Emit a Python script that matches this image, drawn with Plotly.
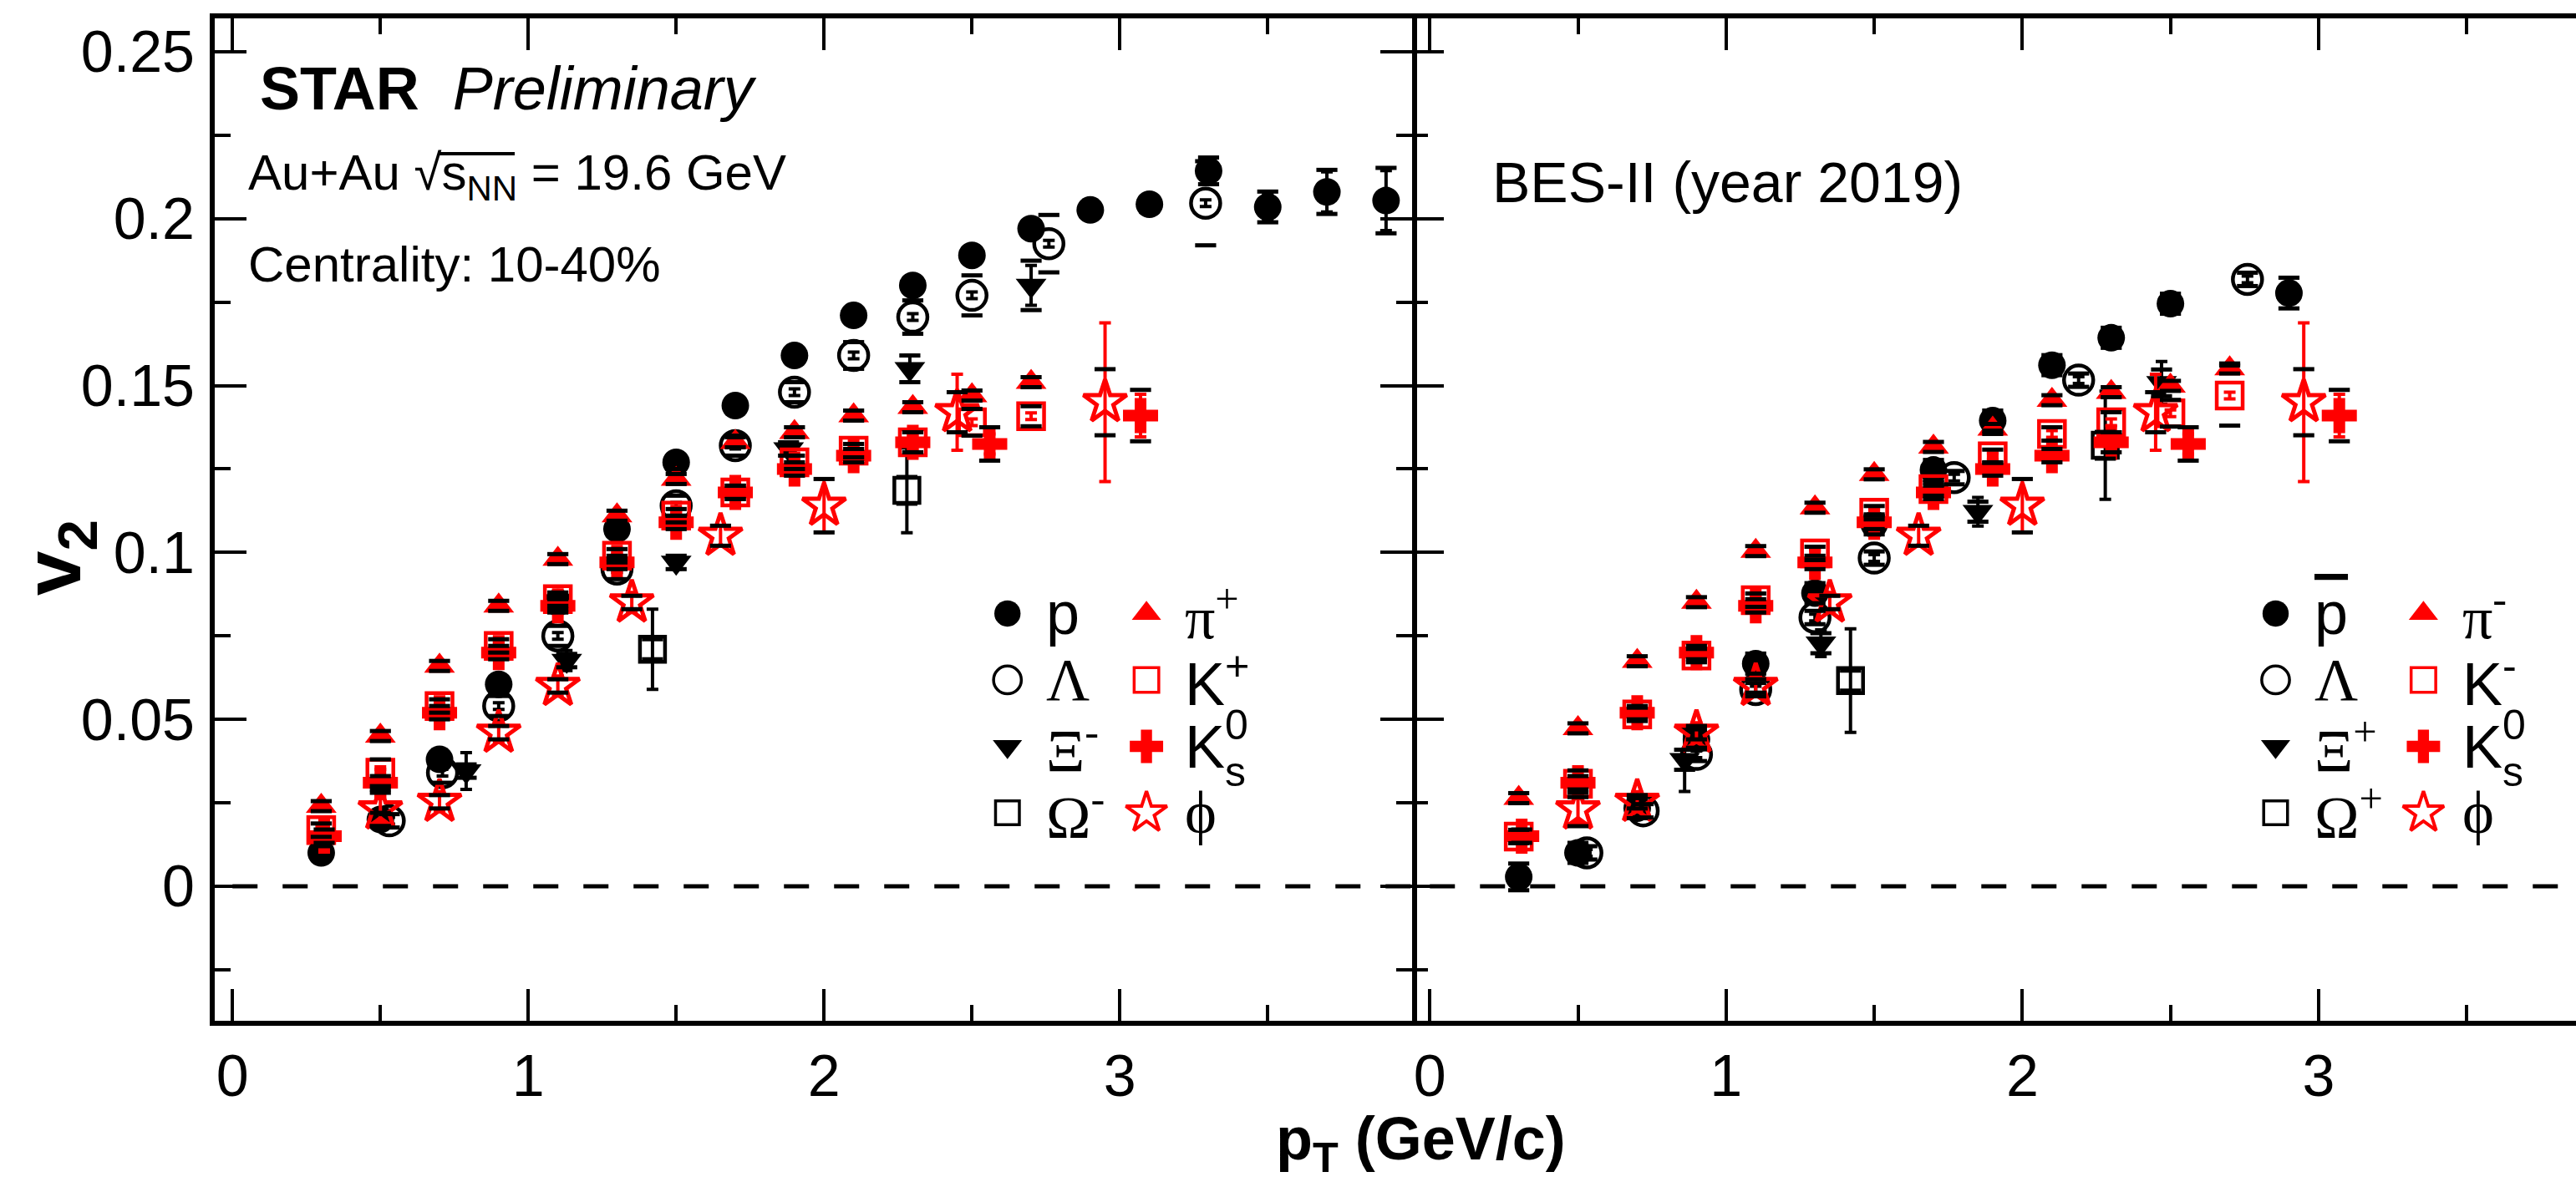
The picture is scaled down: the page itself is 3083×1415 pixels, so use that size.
import numpy as np
import plotly.graph_objects as go

W, H = 3083, 1415
SANS = "Liberation Sans, Arial, sans-serif"
SERIF = "Liberation Serif, Times New Roman, serif"

# ---------------- left panel: particles ----------------
p_pt = [0.3, 0.5, 0.7, 0.9, 1.1, 1.3, 1.5, 1.7, 1.9, 2.1, 2.3, 2.5, 2.7, 2.9, 3.1, 3.3, 3.5, 3.7, 3.9]
p_v2 = [0.010, 0.020, 0.038, 0.0605, 0.085, 0.107, 0.127, 0.144, 0.159, 0.171, 0.180, 0.189, 0.197,
        0.2026, 0.2043, 0.2143, 0.2035, 0.208, 0.2054]
p_stat = [0.001] * 15 + [0.002, 0.004, 0.006, 0.009]
p_sys = [0.002] * 15 + [0.004, 0.0046, 0.0066, 0.0098]

lam_pt = [0.53, 0.71, 0.9, 1.1, 1.3, 1.5, 1.7, 1.9, 2.1, 2.3, 2.5, 2.76, 3.29]
lam_v2 = [0.0196, 0.034, 0.054, 0.075, 0.095, 0.114, 0.132, 0.148, 0.159, 0.1705, 0.177, 0.1925, 0.2046]
lam_stat = [0.001] * 13
lam_sys = [0.002, 0.003, 0.003, 0.003, 0.003, 0.003, 0.003, 0.003, 0.004, 0.005, 0.006, 0.0086, 0.0126]

xim_pt = [0.79, 1.13, 1.5, 1.88, 2.29, 2.7]
xim_v2 = [0.0345, 0.0676, 0.097, 0.131, 0.155, 0.180]
xim_stat = [0.0055, 0.003, 0.002, 0.002, 0.004, 0.006]
xim_sys = [0.002, 0.002, 0.002, 0.002, 0.004, 0.0074]

omm_pt = [1.42, 2.28]
omm_v2 = [0.071, 0.1186]
omm_stat = [0.012, 0.0127]
omm_sys = [0.003, 0.004]

pip_pt = [0.3, 0.5, 0.7, 0.9, 1.1, 1.3, 1.5, 1.7, 1.9, 2.1, 2.3, 2.5, 2.7]
pip_v2 = [0.024, 0.045, 0.066, 0.084, 0.098, 0.111, 0.122, 0.133, 0.136, 0.141, 0.1435, 0.147, 0.151]
pip_stat = [0.0005] * 13
pip_sys = [0.0015] * 13

kp_pt = [0.3, 0.5, 0.7, 0.9, 1.1, 1.3, 1.5, 1.7, 1.9, 2.1, 2.3, 2.5, 2.7]
kp_v2 = [0.0168, 0.034, 0.054, 0.072, 0.086, 0.099, 0.111, 0.118, 0.127, 0.1305, 0.133, 0.139, 0.1408]
kp_stat = [0.001] * 13
kp_sys = [0.002, 0.004, 0.002, 0.002, 0.002, 0.002, 0.002, 0.002, 0.002, 0.002, 0.003, 0.004, 0.003]

# neutral kaons and phi are common to both panels
k0s_pt = [0.31, 0.5, 0.7, 0.9, 1.1, 1.3, 1.5, 1.7, 1.9, 2.1, 2.3, 2.56, 3.07]
k0s_v2 = [0.015, 0.031, 0.052, 0.070, 0.084, 0.097, 0.109, 0.118, 0.125, 0.129, 0.133, 0.1325, 0.141]
k0s_stat = [0.0005] * 10 + [0.002, 0.003, 0.0064]
k0s_sys = [0.002] * 10 + [0.003, 0.005, 0.0077]

phi_pt = [0.5, 0.7, 0.9, 1.1, 1.35, 1.65, 2.0, 2.45, 2.95]
phi_v2 = [0.023, 0.0253, 0.046, 0.060, 0.085, 0.105, 0.114, 0.142, 0.145]
phi_stat = [0.004, 0.003, 0.003, 0.003, 0.003, 0.003, 0.008, 0.0114, 0.0238]
phi_sys = [0.005, 0.002, 0.002, 0.002, 0.002, 0.003, 0.008, 0.006, 0.0099]

# ---------------- right panel: anti-particles ----------------
pbar_pt = [0.3, 0.5, 0.7, 0.9, 1.1, 1.3, 1.5, 1.7, 1.9, 2.1, 2.3, 2.5, 2.9]
pbar_v2 = [0.0028, 0.010, 0.0234, 0.044, 0.0667, 0.0878, 0.1084, 0.1247, 0.1395, 0.1561, 0.1643, 0.1745, 0.1777]
pbar_stat = [0.001] * 13
pbar_sys = [0.004] + [0.003] * 11 + [0.0046]

lbar_pt = [0.53, 0.72, 0.9, 1.1, 1.3, 1.5, 1.77, 2.19, 2.76]
lbar_v2 = [0.010, 0.0226, 0.0395, 0.0589, 0.0805, 0.0983, 0.1224, 0.1516, 0.1818]
lbar_stat = [0.001] * 9
lbar_sys = [0.002] * 9

xip_pt = [0.86, 1.32, 1.85, 2.47]
xip_v2 = [0.0379, 0.0728, 0.1122, 0.1508]
xip_stat = [0.0095, 0.004, 0.0043, 0.0064]
xip_sys = [0.003, 0.003, 0.003, 0.004]

omp_pt = [1.42, 2.28]
omp_v2 = [0.0616, 0.1321]
omp_stat = [0.0155, 0.0162]
omp_sys = [0.003, 0.004]

pim_pt = [0.3, 0.5, 0.7, 0.9, 1.1, 1.3, 1.5, 1.7, 1.9, 2.1, 2.3, 2.5, 2.7]
pim_v2 = [0.0264, 0.0473, 0.0674, 0.0851, 0.1004, 0.1134, 0.1234, 0.1316, 0.137, 0.1456, 0.148, 0.1499, 0.1551]
pim_stat = [0.0005] * 13
pim_sys = [0.0015] * 13

km_pt = [0.3, 0.5, 0.7, 0.9, 1.1, 1.3, 1.5, 1.7, 1.9, 2.1, 2.3, 2.5, 2.7]
km_v2 = [0.0149, 0.0307, 0.0515, 0.0691, 0.0857, 0.0997, 0.1119, 0.119, 0.1288, 0.1355, 0.139, 0.1417, 0.147]
km_stat = [0.001] * 13
km_sys = [0.002, 0.004, 0.002, 0.002, 0.002, 0.002, 0.002, 0.002, 0.002, 0.002, 0.003, 0.004, 0.009]

# marker styles
RED = "#ff0000"
ST = {
    "circle": dict(symbol="circle", color="black", size=33, lw=0),
    "ocircle": dict(symbol="circle-open", color="black", size=35, lw=4.5),
    "tdown": dict(symbol="triangle-down", color="black", size=32, lw=0),
    "osquare": dict(symbol="square-open", color="black", size=30, lw=4.5),
    "tup": dict(symbol="triangle-up", color=RED, size=32, lw=0),
    "rsquare": dict(symbol="square-open", color=RED, size=31, lw=4.5),
    "cross": dict(symbol="cross", color=RED, size=35, lw=0),
    "star": dict(symbol="star-open", color=RED, size=39, lw=5),
}

fig = go.Figure()
brackets = []


def add_species(xa, ya, pt, v2, stat, sys, style):
    s = ST[style]
    fig.add_trace(go.Scatter(
        x=pt, y=v2, xaxis=xa, yaxis=ya, mode="markers",
        marker=dict(symbol=s["symbol"], size=s["size"], color=s["color"],
                    line=dict(color=s["color"], width=s["lw"])),
        error_y=dict(type="data", array=stat, color=s["color"], thickness=4, width=7),
        showlegend=False, hoverinfo="skip"))
    brackets.append((xa, ya, pt, v2, sys))


# black species first, red ones on top
add_species("x", "y", p_pt, p_v2, p_stat, p_sys, "circle")
add_species("x", "y", lam_pt, lam_v2, lam_stat, lam_sys, "ocircle")
add_species("x", "y", xim_pt, xim_v2, xim_stat, xim_sys, "tdown")
add_species("x", "y", omm_pt, omm_v2, omm_stat, omm_sys, "osquare")
add_species("x", "y", pip_pt, pip_v2, pip_stat, pip_sys, "tup")
add_species("x", "y", kp_pt, kp_v2, kp_stat, kp_sys, "rsquare")
add_species("x", "y", k0s_pt, k0s_v2, k0s_stat, k0s_sys, "cross")
add_species("x", "y", phi_pt, phi_v2, phi_stat, phi_sys, "star")

add_species("x2", "y2", pbar_pt, pbar_v2, pbar_stat, pbar_sys, "circle")
add_species("x2", "y2", lbar_pt, lbar_v2, lbar_stat, lbar_sys, "ocircle")
add_species("x2", "y2", xip_pt, xip_v2, xip_stat, xip_sys, "tdown")
add_species("x2", "y2", omp_pt, omp_v2, omp_stat, omp_sys, "osquare")
add_species("x2", "y2", pim_pt, pim_v2, pim_stat, pim_sys, "tup")
add_species("x2", "y2", km_pt, km_v2, km_stat, km_sys, "rsquare")
add_species("x2", "y2", k0s_pt, k0s_v2, k0s_stat, k0s_sys, "cross")
add_species("x2", "y2", phi_pt, phi_v2, phi_stat, phi_sys, "star")

# systematic brackets (black caps above / below each point)
for xa, ya, pt, v2, sys in brackets:
    v2 = np.array(v2)
    sys = np.array(sys)
    fig.add_trace(go.Scatter(
        x=list(pt) * 2, y=np.concatenate([v2 + sys, v2 - sys]), xaxis=xa, yaxis=ya,
        mode="markers",
        marker=dict(symbol="line-ew-open", size=18, color="black", line=dict(color="black", width=5)),
        showlegend=False, hoverinfo="skip"))

# ---------------- legends (drawn inside each panel) ----------------
leg_rows = [0.0817, 0.0618, 0.0419, 0.022]
leg_left = dict(xa="x", ya="y", cols=[2.62, 3.09],
                items=[[("circle", "p", SANS), ("ocircle", "Λ", SERIF), ("tdown", "Ξ<sup>-</sup>", SERIF),
                        ("osquare", "Ω<sup>-</sup>", SERIF)],
                       [("tup", "π<sup>+</sup>", SERIF), ("rsquare", "K<sup>+</sup>", SANS), ("cross", "K0s", SANS),
                        ("star", "ϕ", SERIF)]])
leg_right = dict(xa="x2", ya="y2", cols=[2.855, 3.354],
                 items=[[("circle", "pbar", SANS), ("ocircle", "Λ", SERIF), ("tdown", "Ξ<sup>+</sup>", SERIF),
                         ("osquare", "Ω<sup>+</sup>", SERIF)],
                        [("tup", "π<sup>-</sup>", SERIF), ("rsquare", "K<sup>-</sup>", SANS), ("cross", "K0s", SANS),
                         ("star", "ϕ", SERIF)]])

annotations = []
for leg in (leg_left, leg_right):
    for cx, col in zip(leg["cols"], leg["items"]):
        for ry, (style, label, fam) in zip(leg_rows, col):
            s = ST[style]
            fig.add_trace(go.Scatter(
                x=[cx], y=[ry], xaxis=leg["xa"], yaxis=leg["ya"], mode="markers",
                marker=dict(symbol=s["symbol"], size=s["size"] * 0.95, color=s["color"],
                            line=dict(color=s["color"], width=max(s["lw"] - 1, 0))),
                showlegend=False, hoverinfo="skip"))
            tx = cx + 0.125
            base = dict(xref=leg["xa"], yref=leg["ya"], x=tx, y=ry, xanchor="left", yanchor="middle",
                        showarrow=False)
            if label == "K0s":
                annotations.append(dict(base, text="K", font=dict(family=SANS, size=72, color="black")))
                annotations.append(dict(base, text="0", xshift=48, yshift=26,
                                        font=dict(family=SANS, size=50, color="black")))
                annotations.append(dict(base, text="s", xshift=48, yshift=-30,
                                        font=dict(family=SANS, size=50, color="black")))
            elif label == "pbar":
                annotations.append(dict(base, text="<span style='text-decoration:overline'>p</span>",
                                        font=dict(family=SANS, size=72, color="black")))
            else:
                annotations.append(dict(base, text=label, font=dict(family=fam, size=72, color="black")))

# ---------------- text labels ----------------
annotations += [
    dict(xref="paper", yref="paper", x=309 / W, y=0.925, xanchor="left", yanchor="middle", showarrow=False,
         text="<b>STAR</b>\u00a0 <i>Preliminary</i>", font=dict(family=SANS, size=72, color="black")),
    dict(xref="paper", yref="paper", x=295 / W, y=0.851, xanchor="left", yanchor="middle", showarrow=False,
         text="Au+Au \u221as<sub>NN</sub> = 19.6 GeV",
         font=dict(family=SANS, size=60, color="black")),
    dict(xref="paper", yref="paper", x=295 / W, y=0.776, xanchor="left", yanchor="middle", showarrow=False,
         text="Centrality: 10-40%", font=dict(family=SANS, size=60, color="black")),
    dict(xref="paper", yref="paper", x=1784 / W, y=0.8456, xanchor="left", yanchor="middle", showarrow=False,
         text="BES-II (year 2019)", font=dict(family=SANS, size=68, color="black")),
    dict(xref="paper", yref="paper", x=70 / W, y=0.528, xanchor="center", yanchor="middle", showarrow=False,
         textangle=-90, text="<b>v<sub>2</sub></b>", font=dict(family=SANS, size=96, color="black")),
    dict(xref="paper", yref="paper", x=1700 / W, y=0.033, xanchor="center", yanchor="middle", showarrow=False,
         text="<b>p<sub>T</sub> (GeV/c)</b>", font=dict(family=SANS, size=72, color="black")),
]

shapes = []
# bar of the square-root sign over s_NN
shapes.append(dict(type="line", xref="paper", yref="paper", x0=524 / W, x1=616 / W,
                   y0=(H - 184) / H, y1=(H - 184) / H, line=dict(color="black", width=4)))
# dashed zero line in both panels
for xa, ya in (("x", "y"), ("x2", "y2")):
    shapes.append(dict(type="line", xref=xa, yref=ya, x0=0, x1=4, y0=0, y1=0, layer="below",
                       line=dict(color="black", width=5, dash="30px,30px")))

axis_common = dict(showline=True, linecolor="black", linewidth=6, ticks="inside", tickcolor="black",
                   tickwidth=4, ticklen=38, showgrid=False, zeroline=False,
                   tickfont=dict(family=SANS, size=70, color="black"))
minor_common = dict(ticklen=19, tickwidth=4, ticks="inside", tickcolor="black")
ydom = [0.1364, 0.9845]
yrange = [-0.0403, 0.2600]
xsplit = 1690 / W

fig.update_layout(
    width=W, height=H, margin=dict(l=0, r=0, t=0, b=0),
    plot_bgcolor="white", paper_bgcolor="white", showlegend=False,
    xaxis=dict(axis_common, domain=[257 / W, xsplit], range=[-0.06, 3.988], anchor="y", mirror="allticks",
               tick0=0, dtick=1, minor=dict(minor_common, dtick=0.5)),
    yaxis=dict(axis_common, domain=ydom, range=yrange, anchor="x", mirror="allticks",
               tick0=0, dtick=0.05, ticklabelstandoff=4, minor=dict(minor_common, dtick=0.025)),
    xaxis2=dict(axis_common, domain=[xsplit, 1.0], range=[-0.06, 3.869], anchor="y2", mirror="allticks",
                tick0=0, dtick=1, minor=dict(minor_common, dtick=0.5)),
    # shared frame line comes from the left panel's mirrored axis
    yaxis2=dict(axis_common, showline=False, domain=ydom, range=yrange, anchor="x2", showticklabels=False,
                tick0=0, dtick=0.05, minor=dict(minor_common, dtick=0.025)),
    annotations=annotations,
    shapes=shapes,
)

fig.write_html("out.html", config={"displayModeBar": False},
               post_script="document.body.style.margin='0';")
